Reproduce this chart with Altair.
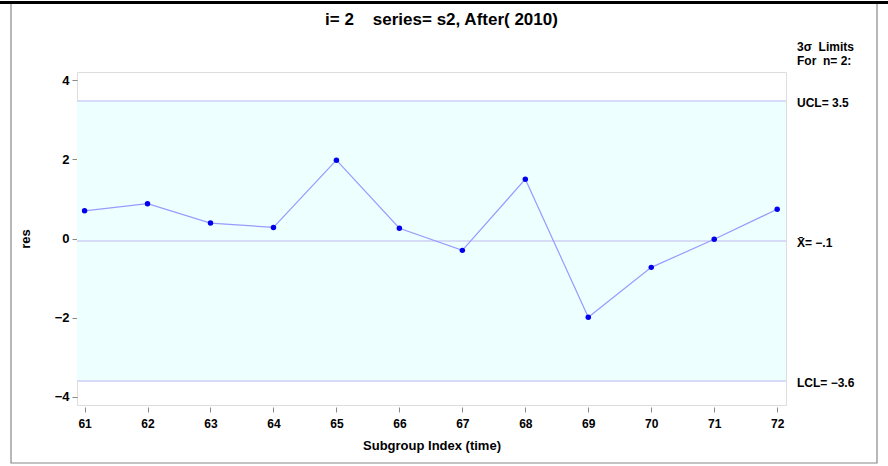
import altair as alt
import pandas as pd

# ---- data ----
subgroup = [61, 62, 63, 64, 65, 66, 67, 68, 69, 70, 71, 72]
res = [0.70, 0.88, 0.39, 0.28, 1.98, 0.26, -0.30, 1.50, -1.99, -0.73, -0.02, 0.74]
ucl = 3.475
center = -0.065
lcl = -3.605
NB = "\u00a0"
limit_labels = ["UCL= 3.5", "X\u0304= \u2212.1", "LCL= \u22123.6"]
limit_values = [ucl, center, lcl]
header_labels = ["3\u03c3" + NB * 2 + "Limits", "For" + NB * 2 + "n= 2:"]
title_text = "i= 2" + NB * 4 + "series= s2, After( 2010)"

W, H = 709, 333
FONT = "Liberation Sans"

df = pd.DataFrame({"t": subgroup, "res": res})
lim = pd.DataFrame({"v": limit_values, "lab": limit_labels})
band = pd.DataFrame({"lo": [lcl], "hi": [ucl]})
one = pd.DataFrame({"a": [0]})
hdr = pd.DataFrame({"lab": header_labels, "dy": [-25, -11]})
ttl = pd.DataFrame({"lab": [title_text]})

xs = alt.Scale(domain=[60.88, 72.14], nice=False, zero=False)
ys = alt.Scale(domain=[-4.21, 4.21], nice=False, zero=False)

xax = alt.Axis(values=subgroup, title="Subgroup Index (time)", format="d",
               domain=False, grid=False, offset=2, tickSize=5, tickColor="#888888",
               labelFont=FONT, labelFontWeight="bold", labelFontSize=12, labelColor="black",
               labelPadding=6, titleFont=FONT, titleFontWeight="bold", titleFontSize=13,
               titleColor="black", titlePadding=10)
yax = alt.Axis(values=[-4, -2, 0, 2, 4], title="res", domain=False, grid=False,
               tickSize=5, tickColor="#888888", labelFont=FONT, labelFontWeight="bold",
               labelFontSize=13, labelColor="black", labelPadding=3,
               titleFont=FONT, titleFontWeight="bold", titleFontSize=13, titleColor="black",
               titlePadding=22)

bandl = alt.Chart(band).mark_rect(color="#EEFFFF").encode(
    x=alt.value(0), x2=alt.value(W),
    y=alt.Y("lo:Q", scale=ys, axis=yax), y2="hi:Q")

rules = alt.Chart(lim).mark_rule(color="#D6DCF6", strokeWidth=2).encode(
    y=alt.Y("v:Q", scale=ys), x=alt.value(0), x2=alt.value(W))

line = alt.Chart(df).mark_line(color="#9A9AFF", strokeWidth=1.2).encode(
    x=alt.X("t:Q", scale=xs, axis=xax), y=alt.Y("res:Q", scale=ys))

pts = alt.Chart(df).mark_point(filled=True, color="#0000EE", size=30, opacity=1).encode(
    x=alt.X("t:Q", scale=xs), y=alt.Y("res:Q", scale=ys))

labs = alt.Chart(lim).mark_text(align="left", baseline="middle", font=FONT,
                                fontWeight="bold", fontSize=12, color="black", dy=2).encode(
    x=alt.value(W + 11), y=alt.Y("v:Q", scale=ys), text="lab:N")

hdrs = alt.Chart(hdr).mark_text(align="left", baseline="middle", font=FONT,
                                fontWeight="bold", fontSize=12, color="black").encode(
    x=alt.value(W + 11), y=alt.Y("dy:Q", scale=None), text="lab:N")

title = alt.Chart(ttl).mark_text(align="center", baseline="middle", font=FONT,
                                 fontWeight="bold", fontSize=17, color="black").encode(
    x=alt.value(W / 2 + 10), y=alt.value(-52), text="lab:N")

topbar = alt.Chart(one).mark_rule(color="black", strokeWidth=3).encode(
    x=alt.value(-77), x2=alt.value(811), y=alt.value(-69.5))

border = alt.Chart(one).mark_rect(fill=None, stroke="#888888", strokeWidth=1.2).encode(
    x=alt.value(-66), x2=alt.value(800), y=alt.value(-69), y2=alt.value(391))

chart = alt.layer(bandl, rules, line, pts, labs, hdrs, title, border, topbar).properties(
    width=W, height=H,
    padding={"left": 77, "top": 72, "right": 102, "bottom": 61},
    autosize=alt.AutoSizeParams(type="none"),
).configure_view(stroke="#888888", strokeWidth=1.2).configure(background="white")

chart.save("out.html", embed_options={"renderer": "svg", "actions": False})
